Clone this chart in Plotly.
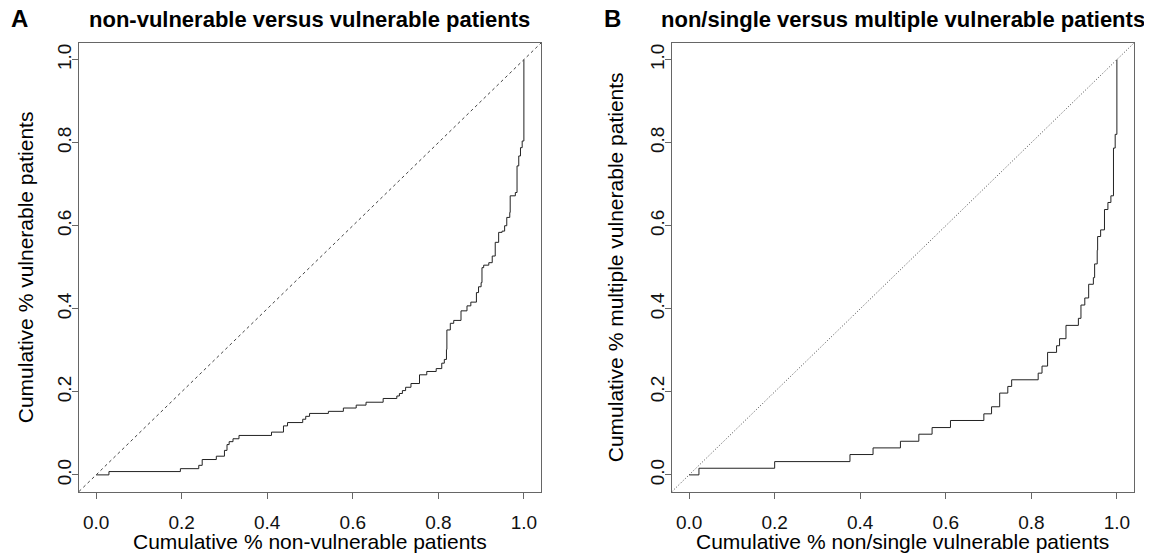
import plotly.graph_objects as go

# Panel A: non-vulnerable vs vulnerable (step corner points)
a_x = [0, 0.03, 0.197, 0.24, 0.248, 0.281, 0.30, 0.306, 0.311, 0.32, 0.334, 0.41, 0.438, 0.4475,
       0.483, 0.49, 0.499, 0.543, 0.578, 0.608, 0.631, 0.671, 0.703, 0.709, 0.716, 0.7235, 0.736,
       0.756, 0.773, 0.795, 0.808, 0.814, 0.819, 0.82, 0.828, 0.836, 0.853, 0.867, 0.876, 0.889,
       0.894, 0.900, 0.902, 0.906, 0.918, 0.926, 0.933, 0.941, 0.949, 0.955, 0.960, 0.967, 0.968,
       0.980, 0.984, 0.988, 0.992, 0.996, 1.0]
a_y = [0, 0.008, 0.015, 0.023, 0.037, 0.045, 0.059, 0.073, 0.080, 0.087, 0.095, 0.103, 0.118, 0.126,
       0.134, 0.141, 0.148, 0.153, 0.161, 0.168, 0.175, 0.184, 0.190, 0.196, 0.203, 0.211, 0.220,
       0.241, 0.249, 0.256, 0.269, 0.278, 0.302, 0.349, 0.365, 0.372, 0.395, 0.407, 0.416, 0.439,
       0.453, 0.463, 0.499, 0.505, 0.511, 0.527, 0.560, 0.584, 0.587, 0.600, 0.620, 0.632, 0.672,
       0.680, 0.744, 0.768, 0.788, 0.804, 1.0]

# Panel B: non/single vs multiple vulnerable
b_x = [0, 0.023, 0.2, 0.376, 0.43, 0.494, 0.537, 0.568, 0.611, 0.689, 0.707, 0.726, 0.745, 0.754,
       0.816, 0.825, 0.838, 0.859, 0.866, 0.881, 0.910, 0.916, 0.925, 0.934, 0.945, 0.948, 0.954,
       0.955, 0.962, 0.971, 0.979, 0.986, 0.992, 0.996, 1.0]
b_y = [0, 0.016, 0.032, 0.049, 0.065, 0.081, 0.098, 0.114, 0.131, 0.147, 0.164, 0.197, 0.213, 0.229,
       0.245, 0.262, 0.295, 0.311, 0.328, 0.360, 0.377, 0.409, 0.426, 0.459, 0.475, 0.508, 0.541,
       0.574, 0.590, 0.639, 0.656, 0.672, 0.787, 0.820, 1.0]

tick_vals = [0, 0.2, 0.4, 0.6, 0.8, 1.0]
tick_text = ["0.0", "0.2", "0.4", "0.6", "0.8", "1.0"]

titles = ["non-vulnerable versus vulnerable patients", "non/single versus multiple vulnerable patients"]
panel_labels = ["A", "B"]
x_titles = ["Cumulative % non-vulnerable patients", "Cumulative % non/single vulnerable patients"]
y_titles = ["Cumulative % vulnerable patients", "Cumulative % multiple vulnerable patients"]

OFF = 8  # page body margin
W, H = 1152 - OFF, 554 - OFF
FONT = "Liberation Sans, Arial, Helvetica, sans-serif"


def px(v):
    return (v - OFF) / W


def py(v):
    return (H - (v - OFF)) / H


xdom = [[px(79), px(541)], [px(672), px(1134)]]
ydom = [py(491.5), py(43)]

fig = go.Figure()
fig.add_trace(go.Scatter(x=a_x, y=a_y, mode="lines", line=dict(shape="hv", color="#222", width=1),
                         xaxis="x", yaxis="y", showlegend=False, hoverinfo="skip"))
fig.add_trace(go.Scatter(x=b_x, y=b_y, mode="lines", line=dict(shape="hv", color="#222", width=1),
                         xaxis="x2", yaxis="y2", showlegend=False, hoverinfo="skip"))

axis_common = dict(range=[-0.04, 1.04], showline=True, mirror=True, linecolor="#666", linewidth=1,
                   ticks="outside", ticklen=6, tickcolor="#666", tickwidth=1,
                   tickvals=tick_vals, ticktext=tick_text, showgrid=False, zeroline=False,
                   tickfont=dict(family=FONT, size=19, color="#111"))

layout = dict(width=W, height=H, margin=dict(l=0, r=0, t=0, b=0),
              plot_bgcolor="white", paper_bgcolor="white", showlegend=False)
layout["xaxis"] = dict(axis_common, domain=xdom[0], anchor="y", ticklabelstandoff=8)
layout["yaxis"] = dict(axis_common, domain=ydom, anchor="x", tickangle=-90, ticklabelstandoff=-7)
layout["xaxis2"] = dict(axis_common, domain=xdom[1], anchor="y2", ticklabelstandoff=8)
layout["yaxis2"] = dict(axis_common, domain=ydom, anchor="x2", tickangle=-90, ticklabelstandoff=-7)
fig.update_layout(**layout)

# diagonal reference lines (y = x), corner to corner
fig.add_shape(type="line", xref="x domain", yref="y domain", x0=0, y0=0, x1=1, y1=1,
              line=dict(color="#444", width=1, dash="3px,3px"))
fig.add_shape(type="line", xref="x2 domain", yref="y2 domain", x0=0, y0=0, x1=1, y1=1,
              line=dict(color="#444", width=1, dash="1px,2px"))

annotations = []
ylab_x = [25, 615]
lab_x = [19, 612]
for i in range(2):
    cx = (xdom[i][0] + xdom[i][1]) / 2
    annotations.append(dict(text="<b>" + titles[i] + "</b>", x=cx, y=py(19), xref="paper", yref="paper",
                            xanchor="center", yanchor="middle", showarrow=False,
                            font=dict(family=FONT, size=22, color="#000")))
    annotations.append(dict(text="<b>" + panel_labels[i] + "</b>", x=px(lab_x[i]), y=py(18),
                            xref="paper", yref="paper", xanchor="center", yanchor="middle",
                            showarrow=False, font=dict(family=FONT, size=24, color="#000")))
    annotations.append(dict(text=x_titles[i], x=cx, y=py(541), xref="paper", yref="paper",
                            xanchor="center", yanchor="middle", showarrow=False,
                            font=dict(family=FONT, size=21, color="#000")))
    annotations.append(dict(text=y_titles[i], x=px(ylab_x[i]), y=(ydom[0] + ydom[1]) / 2,
                            xref="paper", yref="paper", xanchor="center", yanchor="middle",
                            textangle=-90, showarrow=False,
                            font=dict(family=FONT, size=21, color="#000")))
fig.update_layout(annotations=annotations)

fig.write_html("out.html")
